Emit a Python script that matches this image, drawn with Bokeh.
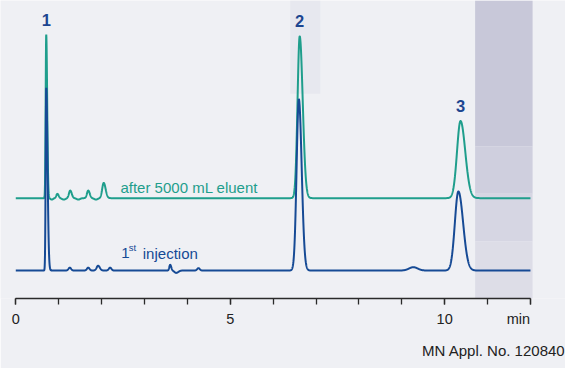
import numpy as np
from bokeh.plotting import figure
from bokeh.models import Range1d, FixedTicker, Label, BoxAnnotation, Title
from bokeh.embed import file_html
from bokeh.resources import INLINE

# ---- data (time in min, height in arbitrary units) ----
# "after 5000 mL eluent" trace (teal)
teal_rt = [0.71, 0.84, 0.97, 1.12, 1.27, 1.46, 1.69, 1.87, 2.05, 6.62, 10.37]
teal_h = [172.0, -1.5, 4.5, -1.5, 8.0, -1.5, 8.0, -1.5, 16.0, 170.0, 81.0]
teal_sl = [0.013, 0.03, 0.025, 0.04, 0.03, 0.04, 0.03, 0.04, 0.035, 0.05, 0.082]
teal_sr = [0.022, 0.03, 0.03, 0.04, 0.035, 0.04, 0.035, 0.04, 0.045, 0.07, 0.11]

# "1st injection" trace (dark blue)
blue_rt = [0.71, 1.26, 1.69, 1.92, 2.20, 3.60, 3.74, 4.26, 6.60, 9.27, 10.32]
blue_h = [192.0, 3.0, 3.0, 5.0, 3.0, 6.0, -2.5, 2.5, 180.0, 3.5, 83.0]
blue_sl = [0.013, 0.03, 0.03, 0.035, 0.03, 0.02, 0.04, 0.03, 0.052, 0.1, 0.082]
blue_sr = [0.03, 0.03, 0.03, 0.04, 0.03, 0.025, 0.05, 0.03, 0.066, 0.1, 0.11]

teal_offset = 105.4
blue_offset = 29.4

peak_names = ["1", "2", "3"]
peak_rt = [0.71, 6.62, 10.37]

tick_major = [0, 5, 10, 12]
tick_minor = list(range(0, 13))
tick_labels = {0: "0", 5: "5", 10: "10", 12: "min" + "\u00a0" * 6}
t_end = 12.0


def trace(t, rts, hs, sls, srs):
    y = np.zeros_like(t)
    for t0, h, sl, sr in zip(rts, hs, sls, srs):
        s = np.where(t < t0, sl, sr)
        y += h * np.exp(-0.5 * ((t - t0) / s) ** 2)
    return y


t = np.arange(0.0, t_end + 1e-9, 0.003)
y_teal = trace(t, teal_rt, teal_h, teal_sl, teal_sr) + teal_offset
y_blue = trace(t, blue_rt, blue_h, blue_sl, blue_sr) + blue_offset

TEAL = "#1f9e8c"
BLUE = "#164a95"
LABEL_BLUE = "#1c4590"
FONT = "Liberation Sans"
BG = "#eff0f4"

W, H = 565, 368
px_per_min = 42.89
x0 = -15.27 / px_per_min
p = figure(width=W, height=H, output_backend="svg", toolbar_location=None,
           x_range=Range1d(x0, x0 + W / px_per_min), y_range=Range1d(0, 313),
           y_axis_location=None, min_border_left=0, min_border_right=0,
           min_border_top=0, min_border_bottom=68)
p.outline_line_color = None
p.grid.visible = False
p.background_fill_color = BG
p.border_fill_color = BG

# faint vertical bands of the photographic background
for left, right, bottom, top, col in [
    (6.40, 7.10, 215, None, "#e7e8ef"),
    (10.71, 12.05, 160, None, "#c8c8d9"),
    (10.71, 12.05, 110, 160, "#cfcfde"),
    (10.71, 12.05, 60, 110, "#d6d6e3"),
    (10.71, 12.05, None, 60, "#dddde7"),
]:
    p.add_layout(BoxAnnotation(left=left, right=right, bottom=bottom, top=top,
                               fill_color=col, fill_alpha=1.0, line_color=None,
                               level="underlay"))

p.line(t, y_teal, line_color=TEAL, line_width=2)
p.line(t, y_blue, line_color=BLUE, line_width=2)

ax = p.xaxis[0]
ax.ticker = FixedTicker(ticks=tick_major, minor_ticks=tick_minor)
ax.major_label_overrides = tick_labels
ax.bounds = (0, t_end)
ax.axis_line_color = "#2a2a2a"
ax.axis_line_width = 1.3
ax.major_tick_line_color = "#2a2a2a"
ax.minor_tick_line_color = "#2a2a2a"
ax.major_tick_line_width = 1.3
ax.minor_tick_line_width = 1.3
ax.major_tick_in = 0
ax.major_tick_out = 6
ax.minor_tick_in = 0
ax.minor_tick_out = 6
ax.major_label_standoff = 6
ax.major_label_text_font = FONT
ax.major_label_text_font_size = "14.5px"
ax.major_label_text_color = "#222222"

# peak numbers above the teal apexes
for name, rt in zip(peak_names, peak_rt):
    apex = float(np.interp(rt, t, y_teal))
    p.add_layout(Label(x=rt, y=apex, y_offset=15, text=name, text_align="center",
                       text_baseline="middle", text_font=FONT, text_font_size="16.5px",
                       text_font_style="bold", text_color=LABEL_BLUE))

p.add_layout(Label(x=2.44, y=teal_offset, y_offset=10.8, text="after 5000 mL eluent",
                   text_font=FONT, text_font_size="15px", text_color=TEAL,
                   text_baseline="alphabetic"))
p.add_layout(Label(x=2.46, y=blue_offset, y_offset=17.5, text="1",
                   text_font=FONT, text_font_size="15px", text_color=BLUE,
                   text_baseline="alphabetic"))
p.add_layout(Label(x=2.46, y=blue_offset, x_offset=7.5, y_offset=23, text="st",
                   text_font=FONT, text_font_size="9.5px", text_color=BLUE,
                   text_baseline="alphabetic"))
p.add_layout(Label(x=2.46, y=blue_offset, x_offset=21.5, y_offset=17.5, text="injection",
                   text_font=FONT, text_font_size="15px", text_color=BLUE,
                   text_baseline="alphabetic"))

p.add_layout(Title(text="MN Appl. No. 120840", align="right", text_font=FONT,
                   text_font_size="15px", text_font_style="normal",
                   text_color="#222222", standoff=20), "below")

open("out.html", "w").write(file_html(p, INLINE))
